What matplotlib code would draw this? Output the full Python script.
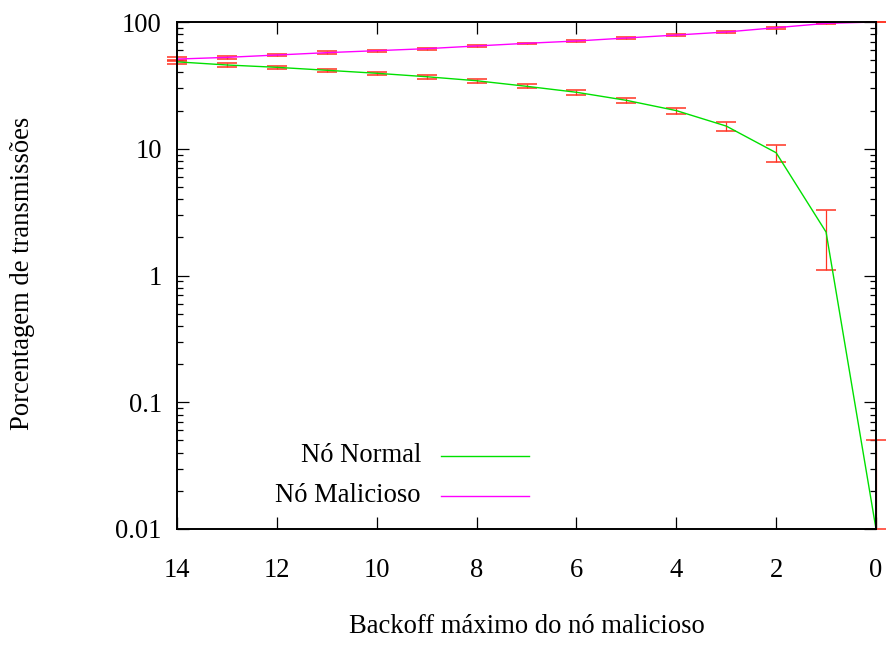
import matplotlib
matplotlib.use("Agg")
import matplotlib.pyplot as plt

# Dados
backoff = [14, 13, 12, 11, 10, 9, 8, 7, 6, 5, 4, 3, 2, 1, 0]
normal = [48.5, 45.8, 43.9, 41.6, 39.4, 37.0, 34.4, 31.1, 27.9, 24.1, 20.0, 15.1, 9.3, 2.2, 0.01]
normal_err = [1.5, 1.4, 1.3, 1.3, 1.2, 1.4, 1.2, 1.2, 1.2, 1.2, 1.1, 1.25, 1.45, 1.1, 0.04]
malicioso = [51.0, 52.6, 54.9, 57.3, 59.4, 61.6, 64.7, 67.9, 70.8, 74.8, 78.9, 83.4, 90.2, 97.5, 100.0]
malicioso_err = [1.8, 1.5, 1.3, 1.3, 1.2, 1.3, 1.0, 1.0, 1.0, 1.0, 1.0, 1.2, 1.6, 1.0, 0.0]
xticks = [14, 12, 10, 8, 6, 4, 2, 0]
yticks = [0.01, 0.1, 1, 10, 100]
yticklabels = ["0.01", "0.1", "1", "10", "100"]

plt.rcParams['font.family'] = ['Liberation Serif', 'DejaVu Serif']
fs = 19.2

fig = plt.figure(figsize=(8.87, 6.47), dpi=100)
ax = fig.add_axes([177/887, 1-529/647, 699/887, 507/647])

# barras de erro (vermelho), so para cima no ultimo ponto do no normal
err_lo = normal_err[:-1] + [0]
ax.errorbar(backoff, normal, yerr=[err_lo, normal_err], fmt='none', ecolor='#ff3322',
            elinewidth=0.9, capsize=7.2, capthick=1.1, clip_on=False, zorder=2)
ax.errorbar(backoff, malicioso, yerr=malicioso_err, fmt='none', ecolor='#ff3322',
            elinewidth=0.9, capsize=7.2, capthick=1.1, clip_on=False, zorder=2)

ax.plot(backoff, normal, color='#00e000', lw=1.0, zorder=3)
ax.plot(backoff, malicioso, color='#ff00ff', lw=1.0, zorder=3)

ax.set_yscale('log')
ax.set_ylim(0.01, 100)
ax.set_xlim(14, 0)
ax.set_xticks(xticks)
ax.set_xticklabels([str(t) for t in xticks], fontsize=fs)
ax.set_yticks(yticks)
ax.set_yticklabels(yticklabels, fontsize=fs)

ax.tick_params(which='major', direction='in', length=8.6, width=0.9, top=True, right=True)
ax.tick_params(which='minor', direction='in', length=4.3, width=0.9, top=False, right=True)
ax.tick_params(axis='x', which='minor', bottom=False, top=False)
ax.tick_params(axis='x', pad=21)
ax.tick_params(axis='y', pad=11)
for s in ax.spines.values():
    s.set_linewidth(1.4)
    s.set_zorder(4)

fig.text(527/887, 1-633/647, "Backoff máximo do nó malicioso", fontsize=fs,
         ha='center', va='baseline')
fig.text(23/887, 1-273/647, "Porcentagem de transmissões", fontsize=fs,
         ha='center', va='center', rotation=90)

# legenda no estilo gnuplot (texto alinhado a direita, amostra a direita)
ax.text(0.349, 0.1327, "Nó Normal", transform=ax.transAxes, fontsize=fs,
        ha='right', va='baseline')
ax.plot([0.3777, 0.5036], [0.1446, 0.1446], transform=ax.transAxes, color='#00e000', lw=1.0)
ax.text(0.349, 0.0538, "Nó Malicioso", transform=ax.transAxes, fontsize=fs,
        ha='right', va='baseline')
ax.plot([0.3777, 0.5036], [0.0651, 0.0651], transform=ax.transAxes, color='#ff00ff', lw=1.0)

fig.savefig("out.png", dpi=100)
